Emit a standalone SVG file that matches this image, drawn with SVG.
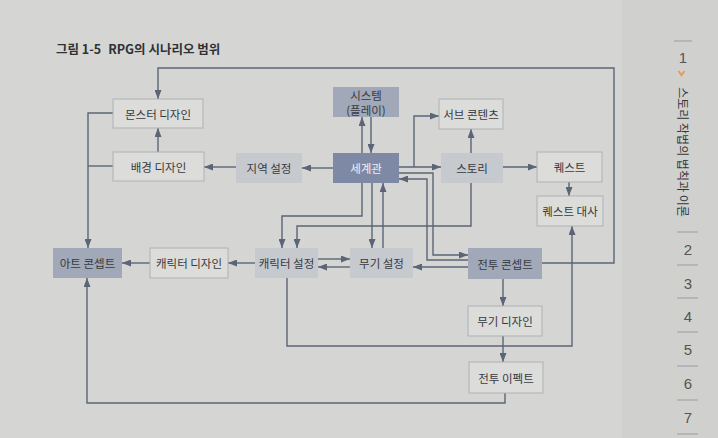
<svg xmlns="http://www.w3.org/2000/svg" width="718" height="438" viewBox="0 0 718 438">
<style>
text{font-family:"Noto Sans CJK KR","Noto Sans",sans-serif;font-size:11.5px;fill:#363a40;text-anchor:middle;dominant-baseline:central}
.light{fill:#dcdddb;stroke:#aeb1b4;stroke-width:1}
.mid{fill:#c6c9ce}
.med{fill:#a1a8b8}
.dark{fill:#7e89a5}
.wt{fill:#eef0f4}
.c path{fill:none;stroke:#5b6577;stroke-width:1.4}
.a{marker-end:url(#ah)}
.num{font-family:"Liberation Sans",sans-serif;font-size:15px;fill:#555;font-weight:normal}
.sep{stroke:#9a9c9c;stroke-width:1}
</style>
<defs>
<marker id="ah" markerUnits="userSpaceOnUse" markerWidth="9" markerHeight="7" refX="9" refY="3.5" orient="auto">
<path d="M0,0 L9,3.5 L0,7 z" fill="#5b6577"/>
</marker>
</defs>
<rect width="718" height="438" fill="#d5d6d3"/>
<rect x="622" y="0" width="96" height="438" fill="#d0d1ce"/>
<text x="56" y="48" style="text-anchor:start;font-size:12.5px;font-weight:bold;fill:#2e3136">그림 1-5<tspan dx="7">RPG의 시나리오 범위</tspan></text>

<g id="sidebar">
<line class="sep" x1="674" y1="41" x2="692" y2="41"/>
<text class="num" x="683" y="57">1</text>
<path d="M678.5,71 L681.5,75 L684.5,71" fill="none" stroke="#e39a5a" stroke-width="2"/>
<text transform="translate(683,152) rotate(90)" style="font-size:12px;fill:#34373c">스토리 작법의 법칙과 이론</text>
<line class="sep" x1="677" y1="232" x2="698" y2="232"/>
<text class="num" x="688" y="249">2</text>
<line class="sep" x1="677" y1="265" x2="698" y2="265"/>
<text class="num" x="688" y="283">3</text>
<line class="sep" x1="677" y1="298" x2="698" y2="298"/>
<text class="num" x="688" y="316">4</text>
<line class="sep" x1="677" y1="332" x2="698" y2="332"/>
<text class="num" x="688" y="349">5</text>
<line class="sep" x1="677" y1="366" x2="698" y2="366"/>
<text class="num" x="688" y="383">6</text>
<line class="sep" x1="677" y1="400" x2="698" y2="400"/>
<text class="num" x="688" y="417">7</text>
<line class="sep" x1="677" y1="434" x2="698" y2="434"/>
</g>

<g class="c" id="connectors">
<path class="a" d="M542,263 H614 V68 H158 V99"/>
<path class="a" d="M158,152 V128"/>
<path class="a" d="M236,167 H204"/>
<path class="a" d="M333,168 H302"/>
<path class="a" d="M113,113 H88 V248"/>
<path d="M113,166 H88"/>
<path class="a" d="M150,263 H122"/>
<path class="a" d="M255,263 H228"/>
<path class="a" d="M318,259 H350"/>
<path class="a" d="M350,267 H318"/>
<path class="a" d="M287,278 V346 H572 V226"/>
<path class="a" d="M505,393 V403 H87 V278"/>
<path class="a" d="M503,279 V306"/>
<path class="a" d="M503,336 V362"/>
<path class="a" d="M468,267 H413"/>
<path class="a" d="M362,153 V117"/>
<path class="a" d="M371,117 V153"/>
<path class="a" d="M414,167 V116 H439"/>
<path class="a" d="M399,167 H441"/>
<path class="a" d="M471,153 V129"/>
<path class="a" d="M503,167 H537"/>
<path class="a" d="M569,182 V196"/>
<path class="a" d="M471,183 V226 H297 V248"/>
<path class="a" d="M362,183 V216 H282 V248"/>
<path class="a" d="M372,183 V248"/>
<path class="a" d="M383,248 V183"/>
<path class="a" d="M399,173 H433 V255 H468"/>
<path class="a" d="M468,260 H427 V179 H399"/>
</g>

<g id="n-monster"><rect class="light" x="113" y="99" width="90" height="29"/><text x="158" y="113.5">몬스터 디자인</text></g>
<g id="n-bg"><rect class="light" x="113" y="152" width="91" height="29"/><text x="158.5" y="166.5">배경 디자인</text></g>
<g id="n-region"><rect class="mid" x="236" y="153" width="66" height="30"/><text x="269" y="168">지역 설정</text></g>
<g id="n-world"><rect class="dark" x="333" y="153" width="66" height="30"/><text class="wt" x="366" y="168">세계관</text></g>
<g id="n-system"><rect class="med" x="333" y="87" width="66" height="30"/><text x="366" y="95">시스템</text><text x="366" y="110">(플레이)</text></g>
<g id="n-sub"><rect class="light" x="439" y="99" width="64" height="30"/><text x="471" y="114">서브 콘텐츠</text></g>
<g id="n-story"><rect class="mid" x="441" y="153" width="62" height="30"/><text x="472" y="168">스토리</text></g>
<g id="n-quest"><rect class="light" x="537" y="152" width="65" height="30"/><text x="569.5" y="167">퀘스트</text></g>
<g id="n-questdlg"><rect class="light" x="537" y="196" width="66" height="30"/><text x="570" y="211">퀘스트 대사</text></g>
<g id="n-art"><rect class="med" x="53" y="248" width="69" height="30"/><text x="87.5" y="263">아트 콘셉트</text></g>
<g id="n-chardesign"><rect class="light" x="150" y="248" width="78" height="30"/><text x="189" y="263">캐릭터 디자인</text></g>
<g id="n-charset"><rect class="mid" x="255" y="248" width="63" height="30"/><text x="286.5" y="263">캐릭터 설정</text></g>
<g id="n-weaponset"><rect class="mid" x="350" y="248" width="63" height="30"/><text x="381.5" y="263">무기 설정</text></g>
<g id="n-battle"><rect class="med" x="468" y="248" width="74" height="31"/><text x="505" y="263.5">전투 콘셉트</text></g>
<g id="n-weapondesign"><rect class="light" x="468" y="306" width="74" height="30"/><text x="505" y="321">무기 디자인</text></g>
<g id="n-effect"><rect class="light" x="469" y="362" width="74" height="31"/><text x="506" y="377.5">전투 이펙트</text></g>
</svg>
